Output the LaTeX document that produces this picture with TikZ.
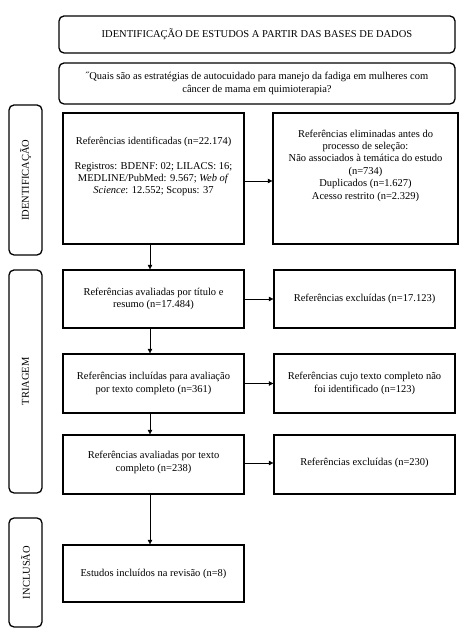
\documentclass[tikz,border=0pt]{standalone}
\usepackage{fontspec}
\setmainfont{Liberation Serif}
\newfontfamily\refserif{Liberation Serif}
\usetikzlibrary{arrows.meta}
\begin{document}
\begin{tikzpicture}[x=1pt,y=1pt,
  font=\refserif\fontsize{10.5}{12.4}\selectfont,
  rbox/.style={draw, line width=1.3pt, rounded corners=5pt, inner sep=0pt, align=center},
  sbox/.style={draw, line width=1.3pt, inner sep=0pt, align=center},
  txt/.style={inner sep=0pt, align=center},
  arr/.style={-{Triangle[length=4.5pt,width=4.5pt]}, line width=0.6pt}]
\useasboundingbox (0,0) rectangle (464,632);
% header boxes
\node[rbox, minimum width=396pt, minimum height=37pt] (title) at (257,597.5)
  {IDENTIFICAÇÃO DE ESTUDOS A PARTIR DAS BASES DE DADOS};
\node[rbox, minimum width=396pt, minimum height=41pt] (q) at (257,548.5)
  {˝Quais são as estratégias de autocuidado para manejo da fadiga em mulheres com\\câncer de mama em quimioterapia?};
% side labels
\node[rbox, rotate=90, minimum width=150pt, minimum height=33pt] (sid) at (25.5,452) {IDENTIFICAÇÃO};
\node[rbox, rotate=90, minimum width=223pt, minimum height=33pt] (str) at (25.5,250.5) {TRIAGEM};
\node[rbox, rotate=90, minimum width=109pt, minimum height=33pt] (sin) at (25.5,59.5) {INCLUSÃO};
% left column
\node[sbox, minimum width=181pt, minimum height=131pt] (L1) at (153.5,453.5) {};
\node[txt] (L1t) at ([yshift=12pt]L1.center)
  {Referências identificadas (n=22.174)\\[12.4pt]Registros: BDENF: 02; LILACS: 16;\\MEDLINE/PubMed: 9.567; \textit{Web of}\\\textit{Science}: 12.552; Scopus: 37};
\node[sbox, minimum width=181pt, minimum height=58pt] (L2) at (153.5,333)
  {Referências avaliadas por título e\\resumo (n=17.484)};
\node[sbox, minimum width=181pt, minimum height=59pt] (L3) at (153.5,248.5)
  {Referências incluídas para avaliação\\por texto completo (n=361)};
\node[sbox, minimum width=181pt, minimum height=59pt] (L4) at (153.5,167.5) {};
\node[txt] (L4t) at ([yshift=2pt]L4.center)
  {Referências avaliadas por texto\\completo (n=238)};
\node[sbox, minimum width=181pt, minimum height=57pt] (L5) at (153.5,58.5)
  {Estudos incluídos na revisão (n=8)};
% right column
\node[sbox, minimum width=185pt, minimum height=131pt] (R1) at (365.5,453.5) {};
\node[txt] (R1t) at ([yshift=13pt]R1.center)
  {Referências eliminadas antes do\\processo de seleção:\\Não associados à temática do estudo\\(n=734)\\Duplicados (n=1.627)\\Acesso restrito (n=2.329)};
\node[sbox, minimum width=181pt, minimum height=58pt] (R2) at (364.5,333)
  {Referências excluídas (n=17.123)};
\node[sbox, minimum width=181pt, minimum height=59pt] (R3) at (364.5,248.5)
  {Referências cujo texto completo não\\foi identificado (n=123)};
\node[sbox, minimum width=181pt, minimum height=59pt] (R4) at (364.5,167.5) {};
\node[txt] (R4t) at ([yshift=2pt]R4.center) {Referências excluídas (n=230)};
% arrows
\coordinate (ax) at (150,0);
\draw[arr] (L1.south -| ax) -- (L2.north -| ax);
\draw[arr] (L2.south -| ax) -- (L3.north -| ax);
\draw[arr] (L3.south -| ax) -- (L4.north -| ax);
\draw[arr] (L4.south -| ax) -- (L5.north -| ax);
\draw[arr] ([yshift=-2.5pt]L1.east) -- ([yshift=-2.5pt]R1.west);
\draw[arr] (L2.east) -- (R2.west);
\draw[arr] (L3.east) -- (R3.west);
\draw[arr] ([yshift=1.5pt]L4.east) -- ([yshift=1.5pt]R4.west);
\end{tikzpicture}
\end{document}
